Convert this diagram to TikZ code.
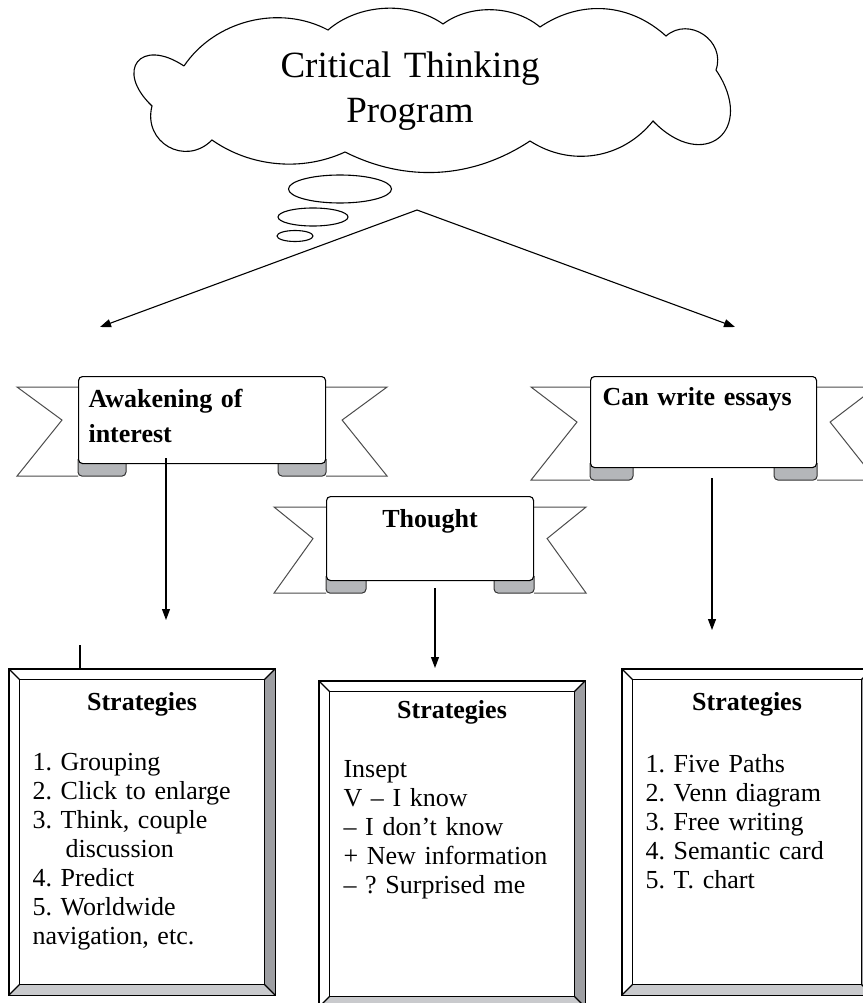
\documentclass[tikz,border=0pt]{standalone}
\usepackage{fontspec}
\setmainfont{Liberation Serif}
\usepackage{tikz}
\definecolor{bevelR}{HTML}{9D9EA2}
\definecolor{bevelB}{HTML}{C9CACD}
\definecolor{tabgray}{HTML}{B4B6B9}
\usetikzlibrary{shapes,arrows.meta,backgrounds,positioning}

% tails and folds of a ribbon behind node #1: tail length, notch inset, fold width
\newcommand{\ribbon}[4]{%
  \draw[tail] ([yshift=-11pt]#1.north west) -- ++(-#2pt,0pt) -- ([xshift=-#3pt]#1.west)
    -- ([shift={(-#2pt,-12pt)}]#1.south west) -- ([yshift=-12pt]#1.south west);
  \draw[tail] ([yshift=-11pt]#1.north east) -- ++(#2pt,0pt) -- ([xshift=#3pt]#1.east)
    -- ([shift={(#2pt,-12pt)}]#1.south east) -- ([yshift=-12pt]#1.south east);
  \filldraw[fold] ([yshift=5pt]#1.south west) -- ([yshift=-12pt]#1.south west)
    -- ([shift={(#4pt,-12pt)}]#1.south west) -- ([xshift=#4pt]#1.south west);
  \filldraw[fold] ([yshift=5pt]#1.south east) -- ([yshift=-12pt]#1.south east)
    -- ([shift={(-#4pt,-12pt)}]#1.south east) -- ([xshift=-#4pt]#1.south east);
}
% bevelled frame of node #1
\newcommand{\bevelbox}[1]{%
  \fill[bevelR] (#1.north east) -- (#1.south east) -- ([shift={(-11pt,11pt)}]#1.south east)
    -- ([shift={(-11pt,-11pt)}]#1.north east) -- cycle;
  \fill[bevelB] (#1.south west) -- (#1.south east) -- ([shift={(-11pt,11pt)}]#1.south east)
    -- ([shift={(11pt,11pt)}]#1.south west) -- cycle;
  \draw ([shift={(11pt,11pt)}]#1.south west) rectangle ([shift={(-11pt,-11pt)}]#1.north east);
  \draw (#1.north west) -- ++(11pt,-11pt) (#1.north east) -- ++(-11pt,-11pt)
    (#1.south west) -- ++(11pt,11pt) (#1.south east) -- ++(-11pt,11pt);
  \draw (#1.south west) rectangle (#1.north east);
}

\begin{document}
\begin{tikzpicture}[x=1pt, y=-1pt, line width=1.1pt, >={Triangle[length=11pt, width=8pt]}]
    \tikzset{
      body/.style={font=\fontsize{26}{29}\selectfont\frenchspacing, inner sep=0pt, align=left,
        text width=225pt, anchor=base west},
      head/.style={font=\fontsize{26}{29}\selectfont\bfseries, inner sep=0pt, anchor=base},
      ribbonbox/.style={draw, fill=white, rounded corners=4pt, anchor=north west,
        inner ysep=0pt, font=\fontsize{26}{35}\selectfont\bfseries},
      tail/.style={draw=black!70, fill=white, line width=1pt},
      fold/.style={draw=black!80, fill=tabgray, rounded corners=4pt, line width=1pt},
      stratbox/.style={draw, minimum width=266pt, minimum height=326pt, inner sep=0pt},
      bubble/.style={ellipse, draw, inner sep=0pt}}
    \useasboundingbox (0,0) rectangle (862,1003);

    % cloud, puff by puff
    \draw (184,66) to[bend left=42, looseness=0.95] (328,30)
      to[bend left=38, looseness=0.9] (443,24)
      to[bend left=38, looseness=0.9] (540,27)
      to[bend left=38, looseness=1] (666,36)
      to[bend left=75, looseness=1.3] (716,70)
      to[bend left=85, looseness=2.3] (653,121)
      to[bend left=42, looseness=1] (530,141)
      to[bend left=30, looseness=0.95] (345,152)
      to[bend left=30, looseness=0.9] (212,140)
      to[bend left=75, looseness=1.4] (152,106)
      to[bend left=85, looseness=2.6] (184,66);
    \node[font=\fontsize{37}{45}\selectfont, align=center, text width=320pt, inner sep=0pt,
      anchor=base] (prog) at (410, 78) {Critical Thinking\\Program};
    \node[bubble, minimum width=103pt, minimum height=28pt] (bub1) at (340, 189) {};
    \node[bubble, minimum width=70pt, minimum height=18pt] (bub2) at (313, 217) {};
    \node[bubble, minimum width=36pt, minimum height=11pt] (bub3) at (295, 236) {};

    \coordinate (apex) at (417, 210);
    \coordinate (lefttip) at (100, 327);
    \coordinate (righttip) at (735, 327);
    \draw[->] (apex) -- (lefttip);
    \draw[->] (apex) -- (righttip);

    % ribbons
    \node[ribbonbox, inner xsep=10pt, text width=227pt, align=left, text height=31pt,
      text depth=56pt] (aware) at (78, 376) {Awakening of\\interest};
    \node[ribbonbox, inner xsep=12pt, text width=202pt, align=left, text height=29pt,
      text depth=62pt] (essay) at (590, 376) {Can write essays};
    \node[ribbonbox, inner xsep=0pt, text width=207pt, align=center, text height=31pt,
      text depth=53pt] (thought) at (326, 496) {Thought};
    \begin{scope}[on background layer]
      \ribbon{aware}{61}{16}{48}
      \ribbon{essay}{59}{13}{43}
      \ribbon{thought}{52}{13}{40}
    \end{scope}

    \coordinate (awareout) at (166, 458);
    \coordinate (awarein) at (166, 620);
    \coordinate (thoughtout) at (435, 588);
    \coordinate (thoughtin) at (435, 668);
    \coordinate (essayout) at (712, 478);
    \coordinate (essayin) at (712, 630);
    \draw[->] (awareout) -- (awarein);
    \draw[->] (thoughtout) -- (thoughtin);
    \draw[->] (essayout) -- (essayin);

    % strategy boxes
    \node[stratbox] (grpbox) at (142, 832) {};
    \node[stratbox] (thbox) at (452, 844) {};
    \node[stratbox, minimum width=250pt] (essbox) at (747, 832) {};
    \bevelbox{grpbox}
    \bevelbox{thbox}
    \bevelbox{essbox}

    \coordinate (stray) at (80, 645);
    \draw (stray) -- (stray |- grpbox.north);

    \node[head] (grphead) at (142, 710) {Strategies};
    \node[body] (grplist) at (32, 770) {1. Grouping\\2. Click to enlarge\\3. Think, couple\\\hspace*{33pt}discussion\\4. Predict\\5. Worldwide\\navigation, etc.};
    \node[head] (thhead) at (452, 718) {Strategies};
    \node[body] (thlist) at (343, 777) {Insept\\V – I know\\– I don’t know\\+ New information\\– ? Surprised me};
    \node[head] (esshead) at (747, 710) {Strategies};
    \node[body] (esslist) at (645, 772) {1. Five Paths\\2. Venn diagram\\3. Free writing\\4. Semantic card\\5. T. chart};
\end{tikzpicture}
\end{document}
